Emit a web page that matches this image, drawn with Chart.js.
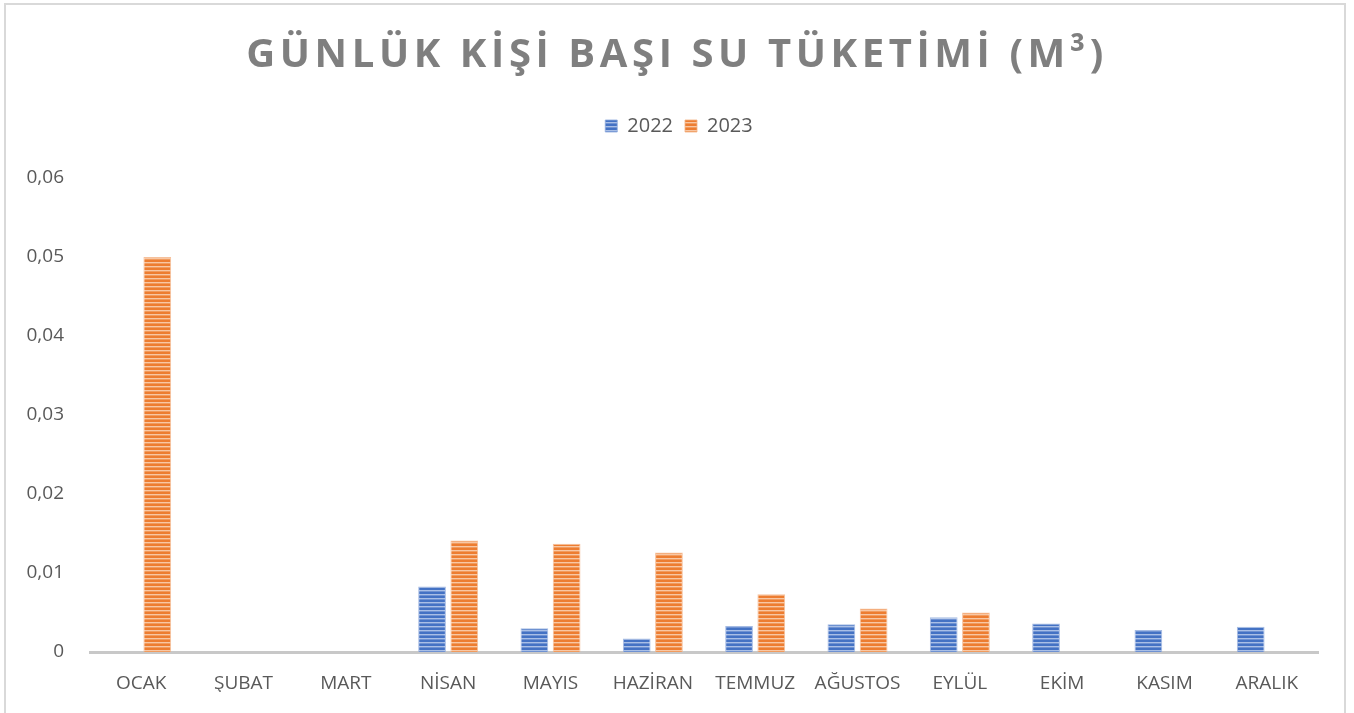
<!DOCTYPE html>
<html lang="tr">
<head>
<meta charset="utf-8">
<title>Günlük Kişi Başı Su Tüketimi</title>
<script src="https://cdn.jsdelivr.net/npm/chart.js@4.4.1/dist/chart.umd.min.js"></script>
<style>
  html, body { margin: 0; padding: 0; background: #fff; overflow: hidden; }
  #wrap { position: relative; width: 1354px; height: 713px; }
  #frame {
    position: absolute; left: 4px; top: 3px; width: 1342px; height: 720px;
    border: 2px solid #d9d9d9; box-sizing: border-box; pointer-events: none;
  }
  canvas { position: absolute; left: 0; top: 0; }
</style>
</head>
<body>
<div id="wrap">
  <canvas id="chart" width="1354" height="713"></canvas>
  <div id="frame"></div>
</div>
<script>
/* ---------- data ---------- */
const TITLE = 'GÜNLÜK KİŞİ BAŞI SU TÜKETİMİ (M³)';
const months = ['OCAK', 'ŞUBAT', 'MART', 'NİSAN', 'MAYIS', 'HAZİRAN', 'TEMMUZ', 'AĞUSTOS', 'EYLÜL', 'EKİM', 'KASIM', 'ARALIK'];
const series2022 = [null, null, null, 0.0083, 0.0030, 0.0017, 0.0033, 0.0035, 0.0044, 0.0036, 0.0028, 0.0032];
const series2023 = [0.0500, null, null, 0.0141, 0.0137, 0.0126, 0.0073, 0.0055, 0.0050, null, null, null];
const yTicks = [0, 0.01, 0.02, 0.03, 0.04, 0.05, 0.06];

const FONT = '"Open Sans", "Liberation Sans", sans-serif';
const TEXT = '#595959';

// horizontal stripes like the office "narrow horizontal" fill
function stripes(dark, light, mid) {
  const c = document.createElement('canvas');
  c.width = 8; c.height = 4;
  const g = c.getContext('2d');
  g.fillStyle = dark;  g.fillRect(0, 0, 8, 2);
  g.fillStyle = light; g.fillRect(0, 2, 8, 1);
  g.fillStyle = mid;   g.fillRect(0, 3, 8, 1);
  return g.createPattern(c, 'repeat');
}

const titlePlugin = {
  id: 'spacedTitle',
  beforeInit(chart) {
    // extra room under the legend, like the office layout
    const fit = chart.legend.fit;
    chart.legend.fit = function () { fit.call(this); this.height += 32; };
  },
  afterUpdate(chart) {
    // legend is centred on the whole canvas, not on the plot
    chart.legend.left += 20;
    chart.legend.right += 20;
  },
  afterDraw(chart) {
    const ctx = chart.ctx;
    ctx.save();
    ctx.font = 'bold 40px ' + FONT;
    ctx.fillStyle = '#7f7f7f';
    ctx.textAlign = 'center';
    ctx.textBaseline = 'middle';
    if ('letterSpacing' in ctx) ctx.letterSpacing = '4.6px';
    ctx.fillText(TITLE, 677, 56);
    ctx.restore();
  }
};

const ctx = document.getElementById('chart').getContext('2d');
new Chart(ctx, {
  type: 'bar',
  data: {
    labels: months,
    datasets: [
      {
        label: '2022',
        data: series2022,
        backgroundColor: stripes('#4472c4', '#a9bfe6', '#6f92d2'),
        borderColor: 'rgba(143,170,220,.8)',
        borderWidth: 1
      },
      {
        label: '2023',
        data: series2023,
        backgroundColor: stripes('#ed7d31', '#f8c7a4', '#f19b5e'),
        borderColor: 'rgba(244,177,131,.8)',
        borderWidth: 1
      }
    ]
  },
  options: {
    responsive: false,
    animation: false,
    devicePixelRatio: 1,
    categoryPercentage: 0.63,
    barPercentage: 0.86,
    layout: { padding: { top: 104, right: 36, bottom: 21, left: 0 } },
    plugins: {
      title: { display: false },
      tooltip: { enabled: false },
      legend: {
        position: 'top',
        labels: {
          boxWidth: 12, boxHeight: 12, padding: 12,
          color: TEXT, font: { family: FONT, size: 20 }
        }
      }
    },
    scales: {
      x: {
        grid: { display: false, drawTicks: false },
        border: { display: true, color: '#c8c8c8', width: 3 },
        ticks: { color: TEXT, padding: 20, font: { family: FONT, size: 19 }, maxRotation: 0, autoSkip: false },
        afterFit: s => { s.height = 40; }
      },
      y: {
        min: 0, max: 0.06,
        grid: { display: false, drawTicks: false },
        border: { display: false },
        afterBuildTicks: s => { s.ticks = yTicks.map(v => ({ value: v })); },
        ticks: {
          color: TEXT, padding: 26, font: { family: FONT, size: 19 },
          callback: v => v === 0 ? '0' : v.toFixed(2).replace('.', ',')
        },
        afterFit: s => { s.width = 90; }
      }
    }
  },
  plugins: [titlePlugin]
});
</script>
</body>
</html>
